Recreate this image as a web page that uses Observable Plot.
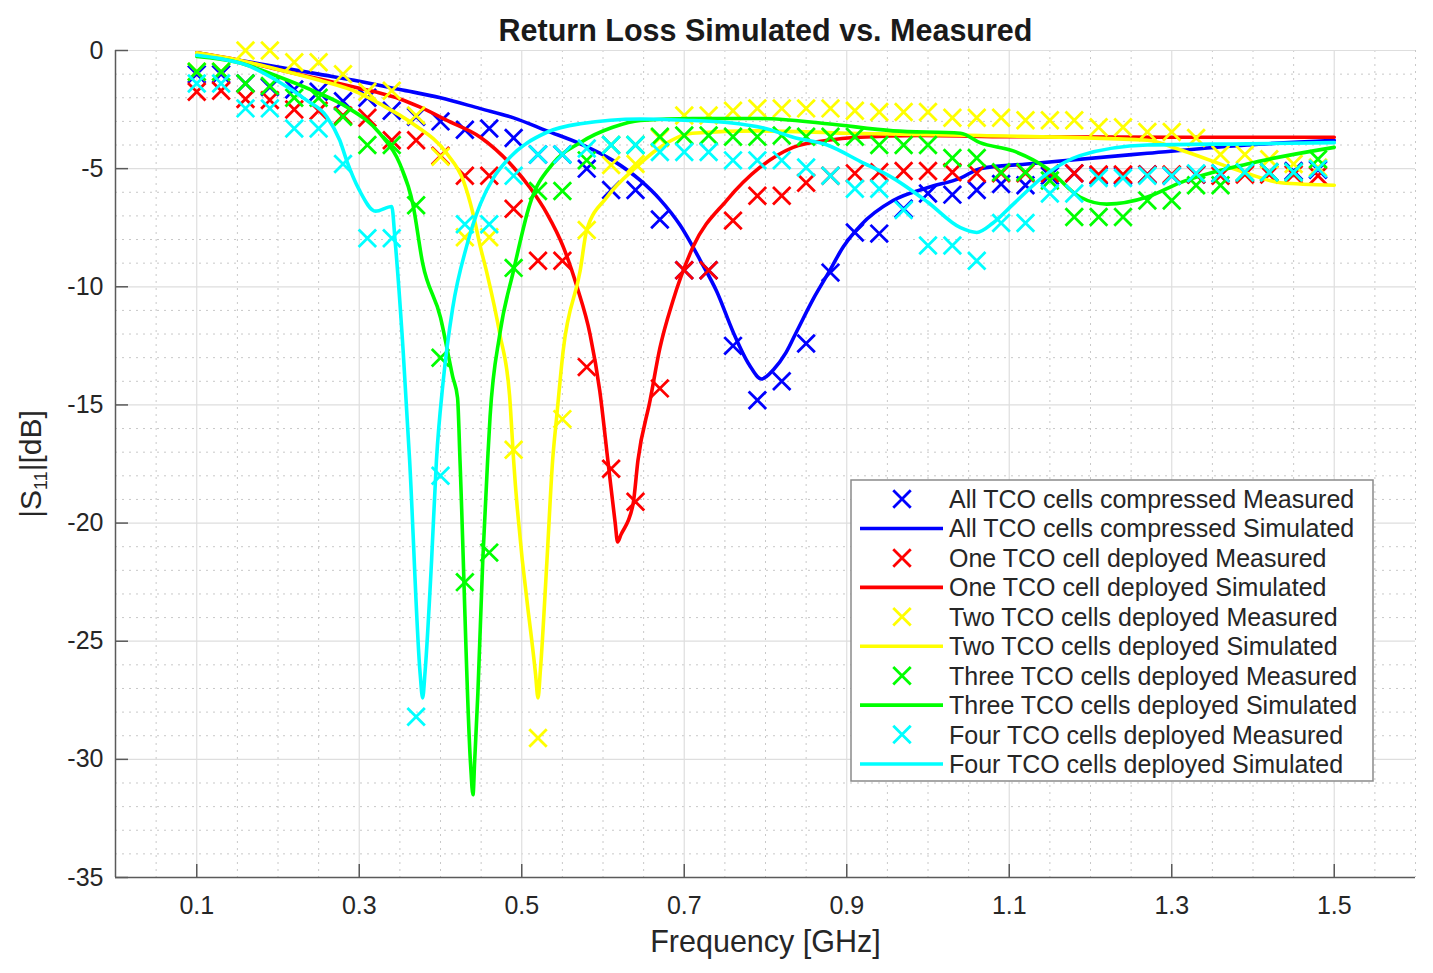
<!DOCTYPE html>
<html><head><meta charset="utf-8">
<script src="https://cdn.jsdelivr.net/npm/d3@7"></script>
<script src="https://cdn.jsdelivr.net/npm/@observablehq/plot@0.6"></script>
<style>
body{margin:0;background:#fff;}
#chart svg{display:block;}
</style></head><body><div id="chart"></div>
<script>
// ---------- data ----------
const freqMeasured = [0.10,0.13,0.16,0.19,0.22,0.25,0.28,0.31,0.34,0.37,0.40,0.43,0.46,0.49,0.52,0.55,0.58,0.61,0.64,0.67,0.70,0.73,0.76,0.79,0.82,0.85,0.88,0.91,0.94,0.97,1.00,1.03,1.06,1.09,1.12,1.15,1.18,1.21,1.24,1.27,1.30,1.33,1.36,1.39,1.42,1.45,1.48];

const blueMeasured = [-1.0,-1.0,-1.4,-1.55,-1.65,-1.75,-2.15,-2.0,-2.55,-2.8,
 -3.0,-3.35,-3.3,-3.7,-4.4,-4.4,-5.0,-5.9,-5.9,-7.15,
 -9.3,-9.3,-12.5,-14.8,-14.0,-12.4,-9.4,-7.7,-7.75,-6.7,
 -6.05,-6.1,-5.9,-5.65,-5.7,-5.3,-5.2,-5.3,-5.3,-5.25,
 -5.3,-5.25,-5.2,-5.2,-5.15,-5.1,-5.05];
const redMeasured = [-1.75,-1.7,-2.05,-2.1,-2.5,-2.55,-2.75,-2.85,-3.8,-3.8,
 -4.45,-5.3,-5.3,-6.7,-8.9,-8.9,-13.4,-17.7,-19.1,-14.3,
 -9.3,-9.3,-7.2,-6.15,-6.15,-5.6,-5.3,-5.2,-5.15,-5.1,
 -5.1,-5.15,-5.2,-5.2,-5.2,-5.2,-5.2,-5.25,-5.25,-5.25,
 -5.25,-5.25,-5.3,-5.25,-5.25,-5.25,-5.3];
const yellowMeasured = [-0.9,-0.9,0.0,0.0,-0.5,-0.5,-1.0,-1.75,-1.7,-2.75,
 -4.5,-7.9,-7.9,-16.9,-29.1,-15.6,-7.6,-4.85,-4.8,-3.7,
 -2.75,-2.75,-2.55,-2.45,-2.45,-2.45,-2.45,-2.55,-2.6,-2.6,
 -2.6,-2.85,-2.85,-2.85,-2.95,-2.95,-2.95,-3.25,-3.25,-3.45,
 -3.45,-3.7,-4.4,-4.4,-4.6,-4.8,-4.95];
const greenMeasured = [-0.9,-0.9,-1.4,-1.5,-2.0,-2.0,-2.8,-4.0,-4.0,-6.55,
 -13.0,-22.5,-21.25,-9.2,-5.95,-5.95,-4.65,-4.0,-4.0,-3.65,
 -3.6,-3.6,-3.65,-3.65,-3.6,-3.65,-3.65,-3.65,-4.0,-4.0,
 -4.0,-4.55,-4.55,-5.15,-5.15,-5.5,-7.05,-7.05,-7.05,-6.35,
 -6.35,-5.7,-5.7,-5.15,-5.15,-5.15,-4.6];
const cyanMeasured = [-1.4,-1.4,-2.45,-2.45,-3.3,-3.3,-4.8,-7.95,-7.95,-28.2,
 -18.0,-7.35,-7.35,-5.3,-4.4,-4.4,-4.15,-4.0,-4.0,-4.3,
 -4.3,-4.3,-4.65,-4.65,-4.65,-4.95,-5.3,-5.85,-5.85,-6.75,
 -8.25,-8.25,-8.9,-7.3,-7.3,-6.05,-6.05,-5.4,-5.4,-5.3,
 -5.3,-5.2,-5.2,-5.15,-5.15,-5.15,-5.0];

const blueSimFreq = [0.1,0.15,0.2,0.25,0.3,0.35,0.4,0.449,0.49,0.531,0.572,0.612,0.646,0.67,0.695,0.72,0.74,0.76,0.78,0.795,0.81,0.825,0.839,0.859,0.876,0.896,0.917,0.957,1.0,1.04,1.064,1.122,1.27,1.393,1.5];
const blueSimDb   = [-0.1,-0.4,-0.7,-1.0,-1.3,-1.65,-2.0,-2.46,-2.85,-3.4,-3.95,-4.65,-5.5,-6.3,-7.4,-8.9,-10.2,-11.9,-13.3,-13.9,-13.5,-12.8,-11.85,-10.5,-9.5,-8.3,-7.4,-6.35,-5.8,-5.4,-5.0,-4.8,-4.35,-4.0,-3.8];

const redSimFreq = [0.1,0.15,0.2,0.25,0.3,0.325,0.35,0.375,0.408,0.449,0.49,0.51,0.531,0.551,0.568,0.584,0.596,0.606,0.615,0.618,0.622,0.637,0.643,0.658,0.67,0.686,0.711,0.752,0.793,0.834,0.876,0.917,0.99,1.1,1.3,1.5];
const redSimDb   = [-0.1,-0.4,-0.8,-1.2,-1.6,-1.8,-2.05,-2.4,-2.96,-3.67,-4.95,-5.8,-6.9,-8.3,-10.0,-12.0,-14.4,-17.35,-20.0,-20.8,-20.5,-19.2,-17.35,-14.8,-12.6,-10.6,-8.3,-6.35,-4.95,-4.1,-3.8,-3.67,-3.6,-3.65,-3.67,-3.67];

const yellowSimFreq = [0.1,0.15,0.2,0.25,0.3,0.325,0.366,0.408,0.428,0.44,0.449,0.457,0.473,0.485,0.49,0.517,0.52,0.523,0.531,0.538,0.543,0.551,0.572,0.58,0.605,0.642,0.666,0.71,0.79,0.9,1.064,1.27,1.31,1.393,1.434,1.5];
const yellowSimDb   = [-0.1,-0.4,-0.8,-1.25,-1.8,-2.25,-3.1,-4.37,-5.5,-6.9,-8.3,-9.4,-12.0,-14.6,-17.35,-26.4,-27.4,-26.2,-21.6,-17.35,-15.5,-12.7,-9.3,-7.6,-6.2,-4.9,-4.2,-3.5,-3.4,-3.5,-3.6,-3.8,-4.2,-5.2,-5.6,-5.7];

const greenSimFreq = [0.1,0.15,0.2,0.243,0.285,0.325,0.35,0.366,0.378,0.4,0.415,0.421,0.424,0.437,0.44,0.442,0.446,0.452,0.458,0.461,0.473,0.49,0.51,0.538,0.572,0.612,0.646,0.71,0.793,0.876,0.957,1.04,1.064,1.105,1.147,1.187,1.22,1.27,1.31,1.393,1.5];
const greenSimDb   = [-0.25,-0.5,-1.1,-1.7,-2.4,-3.5,-4.8,-6.5,-9.0,-11.3,-13.8,-14.7,-17.35,-30.2,-31.5,-30.1,-27.2,-21.6,-17.35,-15.5,-12.0,-9.3,-6.5,-4.8,-3.9,-3.25,-2.96,-2.88,-2.88,-3.1,-3.4,-3.5,-3.9,-4.25,-5.0,-6.2,-6.5,-6.2,-5.6,-4.8,-4.1];

const cyanSimFreq = [0.1,0.13,0.16,0.2,0.235,0.26,0.276,0.285,0.3,0.32,0.34,0.344,0.354,0.362,0.375,0.378,0.381,0.389,0.395,0.403,0.415,0.432,0.449,0.465,0.482,0.531,0.572,0.646,0.7,0.753,0.8,0.834,0.876,0.917,0.957,0.999,1.04,1.06,1.08,1.105,1.147,1.187,1.27,1.393,1.5];
const cyanSimDb   = [-0.2,-0.35,-0.6,-1.3,-2.1,-2.8,-3.8,-4.7,-5.9,-6.8,-6.6,-8.0,-12.7,-17.35,-26.4,-27.4,-26.3,-21.6,-17.35,-14.1,-10.9,-8.3,-6.5,-5.4,-4.65,-3.46,-3.1,-2.9,-2.95,-3.05,-3.3,-3.67,-4.0,-4.7,-5.4,-6.4,-7.5,-7.7,-7.3,-6.5,-5.2,-4.45,-4.0,-3.95,-3.9];

const seriesNames = ["All TCO cells compressed","One TCO cell deployed","Two TCO cells deployed","Three TCO cells deployed","Four TCO cells deployed"];
const seriesColors = ["#0000ff","#ff0000","#ffff00","#00ff00","#00ffff"];

const xTicks = [0.1,0.3,0.5,0.7,0.9,1.1,1.3,1.5];
const yTicks = [0,-5,-10,-15,-20,-25,-30,-35];
const xMinorGrid = [0.05,0.15,0.2,0.25,0.35,0.4,0.45,0.55,0.6,0.65,0.75,0.8,0.85,0.95,1.0,1.05,1.15,1.2,1.25,1.35,1.4,1.45,1.55,1.6];
const yMinorGrid = d3.range(-34, 0).filter(v => v % 5 !== 0);

const titleText = "Return Loss Simulated vs. Measured";
const xLabelText = "Frequency [GHz]";

// ---------- build ----------
const measured = [blueMeasured, redMeasured, yellowMeasured, greenMeasured, cyanMeasured];
const simF = [blueSimFreq, redSimFreq, yellowSimFreq, greenSimFreq, cyanSimFreq];
const simV = [blueSimDb, redSimDb, yellowSimDb, greenSimDb, cyanSimDb];

const FONT = "'Liberation Sans', Arial, Helvetica, sans-serif";
const TXT = "#262626";

const seriesMarks = [];
seriesNames.forEach((name, k) => {
  const pts = measured[k].map((v, i) => ({f: freqMeasured[i], v}));
  const sim = simF[k].map((f, i) => ({f, v: simV[k][i]}));
  seriesMarks.push(Plot.dot(pts, {x: "f", y: "v", symbol: "times", r: 8, stroke: seriesColors[k], strokeWidth: 2.8}));
  seriesMarks.push(Plot.line(sim, {x: "f", y: "v", stroke: seriesColors[k], strokeWidth: 3.6, strokeLinejoin: "round", curve: "monotone-x"}));
});

const svg = Plot.plot({
  width: 1433,
  height: 973,
  marginLeft: 115,
  marginRight: 18,
  marginTop: 50,
  marginBottom: 96,
  style: {fontFamily: FONT, color: TXT, background: "#fff"},
  x: {domain: [0, 1.6]},
  y: {domain: [-35, 0]},
  marks: [
    Plot.ruleX(xMinorGrid, {stroke: "#c8c8c8", strokeDasharray: "2,5", strokeWidth: 1}),
    Plot.ruleY(yMinorGrid, {stroke: "#c8c8c8", strokeDasharray: "2,5", strokeWidth: 1}),
    Plot.ruleX(xTicks, {stroke: "#dedede", strokeWidth: 1.2}),
    Plot.ruleY(yTicks, {stroke: "#dedede", strokeWidth: 1.2}),
    Plot.ruleX([0], {stroke: "#5a5a5a", strokeWidth: 1.5}),
    Plot.ruleY([-35], {stroke: "#5a5a5a", strokeWidth: 1.5}),
    Plot.axisX(xTicks, {tickSize: -13, stroke: "#5a5a5a", strokeWidth: 1.5, tickFormat: () => "", label: null}),
    Plot.axisY(yTicks, {tickSize: -13, stroke: "#5a5a5a", strokeWidth: 1.5, tickFormat: () => "", label: null}),
    Plot.axisX(xTicks, {tickSize: 0, tickPadding: 19, fontSize: 25, fill: TXT, tickFormat: d => d.toFixed(1), label: null}),
    Plot.axisY(yTicks, {tickSize: 0, tickPadding: 12, fontSize: 25, fill: TXT, tickFormat: d => String(d), label: null}),
    ...seriesMarks,
    Plot.text([titleText], {frameAnchor: "top", dy: -31, text: d => d, fontSize: 30.5, fontWeight: "bold", fill: "#1a1a1a"}),
    Plot.text([xLabelText], {frameAnchor: "bottom", dy: 74, text: d => d, fontSize: 30.5, fill: TXT}),
    Plot.text(["|S11|[dB]"], {frameAnchor: "left", dx: -84, rotate: -90, textAnchor: "middle", text: d => d, fontSize: 30, fill: TXT, className: "ylab"})
  ]
});

// y label with subscript
const yl = d3.select(svg).select("g.ylab text");
yl.text(null);
yl.append("tspan").text("|S");
yl.append("tspan").attr("font-size", 18).attr("dy", 6).text("11");
yl.append("tspan").attr("dy", -6).text("|[dB]");

// legend
const lg = d3.select(svg).append("g").attr("font-family", FONT).attr("font-size", 25)
  .attr("fill", TXT).attr("text-anchor", "start");
lg.append("rect").attr("x", 851).attr("y", 480).attr("width", 522).attr("height", 301)
  .attr("fill", "#fff").attr("stroke", "#8a8a8a").attr("stroke-width", 1.5);
const sym = d3.symbol(d3.symbolTimes, Math.PI * 64)();
seriesNames.forEach((name, k) => {
  const y1 = 499 + k * 2 * 29.45;
  const y2 = y1 + 29.45;
  lg.append("path").attr("d", sym).attr("transform", `translate(902,${y1})`)
    .attr("fill", "none").attr("stroke", seriesColors[k]).attr("stroke-width", 2.8);
  lg.append("text").attr("x", 949).attr("y", y1).attr("dy", "0.36em").text(name + " Measured");
  lg.append("line").attr("x1", 860).attr("x2", 943).attr("y1", y2).attr("y2", y2)
    .attr("stroke", seriesColors[k]).attr("stroke-width", 3.6);
  lg.append("text").attr("x", 949).attr("y", y2).attr("dy", "0.36em").text(name + " Simulated");
});

document.getElementById("chart").appendChild(svg);
</script>
</body></html>
